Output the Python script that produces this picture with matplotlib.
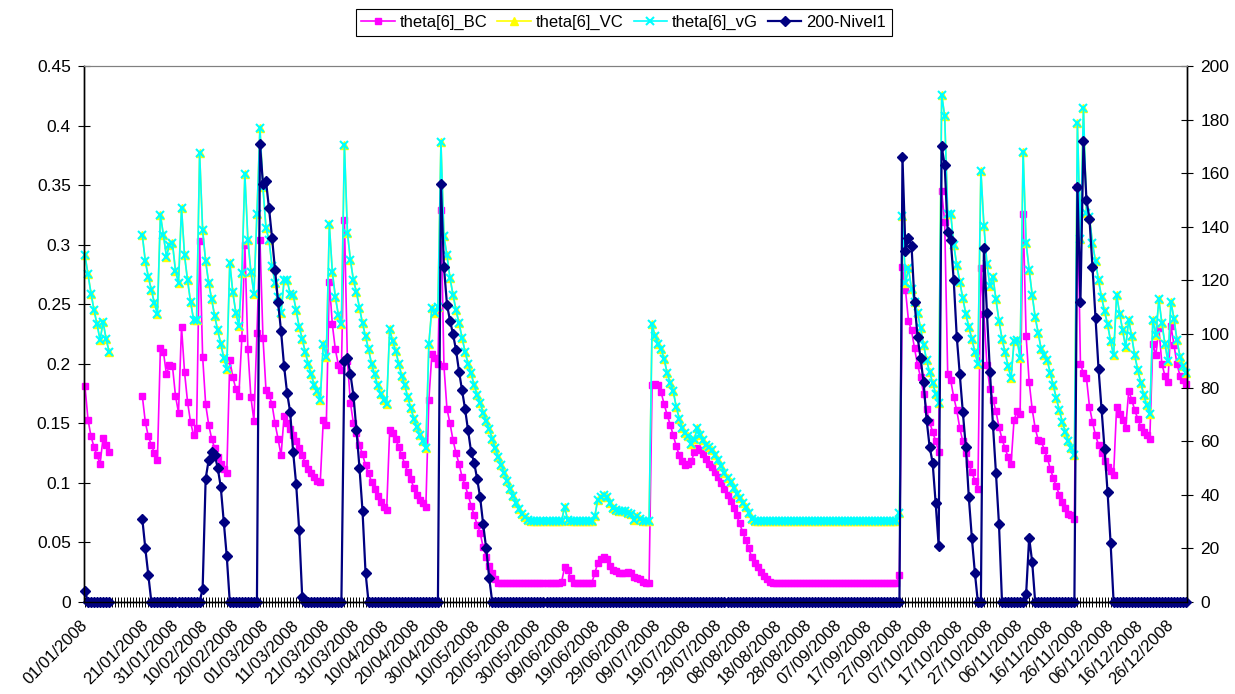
import numpy as np
import matplotlib
matplotlib.use("Agg")
import matplotlib.pyplot as plt
import matplotlib.transforms as mtransforms
from matplotlib.ticker import MultipleLocator, FuncFormatter

plt.rcParams['font.family'] = ['Liberation Sans', 'DejaVu Sans']

# dias del 2008 (0 = 01/01/2008 ... 365 = 31/12/2008)
dias = np.arange(366)

# etiquetas del eje x cada 10 dias (Excel se salta la del 11/01)
dias_etiqueta = [0, 20, 30, 40, 50, 60, 70, 80, 90, 100, 110, 120, 130, 140,
                 150, 160, 170, 180, 190, 200, 210, 220, 230, 240, 250, 260,
                 270, 280, 290, 300, 310, 320, 330, 340, 350, 360]
etiquetas = ["01/01/2008", "21/01/2008", "31/01/2008", "10/02/2008",
             "20/02/2008", "01/03/2008", "11/03/2008", "21/03/2008",
             "31/03/2008", "10/04/2008", "20/04/2008", "30/04/2008",
             "10/05/2008", "20/05/2008", "30/05/2008", "09/06/2008",
             "19/06/2008", "29/06/2008", "09/07/2008", "19/07/2008",
             "29/07/2008", "08/08/2008", "18/08/2008", "28/08/2008",
             "07/09/2008", "17/09/2008", "27/09/2008", "07/10/2008",
             "17/10/2008", "27/10/2008", "06/11/2008", "16/11/2008",
             "26/11/2008", "06/12/2008", "16/12/2008", "26/12/2008"]

N = None  # dia sin dato

# humedad theta[6] modelo BC (una fila = 10 dias)
theta_BC = [
    0.181, 0.153, 0.139, 0.130, 0.123, 0.116, 0.138, 0.132, 0.126, N,
    N, N, N, N, N, N, N, N, N, 0.173,
    0.151, 0.139, 0.132, 0.125, 0.119, 0.213, 0.210, 0.191, 0.199, 0.198,
    0.173, 0.159, 0.231, 0.193, 0.168, 0.151, 0.140, 0.146, 0.303, 0.206,
    0.166, 0.149, 0.137, 0.129, 0.122, 0.116, 0.112, 0.108, 0.203, 0.189,
    0.179, 0.173, 0.222, 0.300, 0.212, 0.172, 0.152, 0.226, 0.304, 0.222,
    0.178, 0.174, 0.166, 0.150, 0.137, 0.123, 0.156, 0.150, 0.145, 0.140,
    0.135, 0.129, 0.123, 0.117, 0.112, 0.108, 0.105, 0.102, 0.101, 0.153,
    0.149, 0.269, 0.233, 0.212, 0.199, 0.195, 0.321, 0.202, 0.167, 0.150,
    0.142, 0.132, 0.124, 0.115, 0.108, 0.101, 0.095, 0.089, 0.084, 0.080,
    0.077, 0.144, 0.142, 0.137, 0.130, 0.123, 0.116, 0.109, 0.103, 0.096,
    0.090, 0.086, 0.083, 0.080, 0.170, 0.208, 0.205, 0.200, 0.329, 0.198,
    0.162, 0.150, 0.136, 0.125, 0.116, 0.105, 0.098, 0.090, 0.081, 0.073,
    0.065, 0.058, 0.046, 0.038, 0.030, 0.024, 0.019, 0.016, 0.016, 0.016,
    0.016, 0.016, 0.016, 0.016, 0.016, 0.016, 0.016, 0.016, 0.016, 0.016,
    0.016, 0.016, 0.016, 0.016, 0.016, 0.016, 0.016, 0.016, 0.017, 0.029,
    0.027, 0.020, 0.016, 0.016, 0.016, 0.016, 0.016, 0.016, 0.016, 0.024,
    0.033, 0.036, 0.038, 0.036, 0.030, 0.027, 0.026, 0.024, 0.024, 0.024,
    0.025, 0.024, 0.021, 0.020, 0.019, 0.017, 0.016, 0.016, 0.182, 0.183,
    0.182, 0.176, 0.166, 0.157, 0.149, 0.140, 0.131, 0.123, 0.118, 0.115,
    0.116, 0.118, 0.126, 0.129, 0.128, 0.124, 0.120, 0.116, 0.113, 0.109,
    0.105, 0.100, 0.095, 0.090, 0.085, 0.079, 0.073, 0.066, 0.059, 0.052,
    0.045, 0.038, 0.033, 0.029, 0.025, 0.022, 0.019, 0.017, 0.016, 0.016,
    0.016, 0.016, 0.016, 0.016, 0.016, 0.016, 0.016, 0.016, 0.016, 0.016,
    0.016, 0.016, 0.016, 0.016, 0.016, 0.016, 0.016, 0.016, 0.016, 0.016,
    0.016, 0.016, 0.016, 0.016, 0.016, 0.016, 0.016, 0.016, 0.016, 0.016,
    0.016, 0.016, 0.016, 0.016, 0.016, 0.016, 0.016, 0.016, 0.016, 0.016,
    0.023, 0.281, 0.262, 0.236, 0.228, 0.213, 0.199, 0.189, 0.175, 0.162,
    0.151, 0.143, 0.135, 0.126, 0.345, 0.319, 0.191, 0.186, 0.172, 0.161,
    0.146, 0.135, 0.125, 0.116, 0.109, 0.102, 0.095, 0.280, 0.242, 0.199,
    0.179, 0.170, 0.160, 0.147, 0.137, 0.129, 0.122, 0.116, 0.153, 0.160,
    0.158, 0.326, 0.223, 0.185, 0.162, 0.146, 0.136, 0.135, 0.128, 0.121,
    0.112, 0.104, 0.097, 0.090, 0.084, 0.079, 0.074, 0.073, 0.070, 0.348,
    0.200, 0.192, 0.188, 0.164, 0.151, 0.140, 0.132, 0.125, 0.118, 0.113,
    0.110, 0.107, 0.164, 0.158, 0.153, 0.146, 0.177, 0.170, 0.161, 0.154,
    0.147, 0.143, 0.140, 0.137, 0.217, 0.207, 0.230, 0.200, 0.190, 0.185,
    0.232, 0.216, 0.200, 0.190, 0.186, 0.183,
]

# modelo van Genuchten
theta_vG = [
    0.291, 0.275, 0.259, 0.245, 0.233, 0.220, 0.235, 0.221, 0.210, N,
    N, N, N, N, N, N, N, N, N, 0.308,
    0.286, 0.273, 0.262, 0.251, 0.242, 0.325, 0.308, 0.290, 0.300, 0.301,
    0.278, 0.268, 0.331, 0.291, 0.270, 0.252, 0.237, 0.237, 0.377, 0.312,
    0.286, 0.268, 0.254, 0.240, 0.228, 0.217, 0.205, 0.196, 0.285, 0.260,
    0.243, 0.232, 0.276, 0.359, 0.304, 0.277, 0.259, 0.326, 0.398, 0.348,
    0.314, 0.304, 0.282, 0.268, 0.256, 0.243, 0.270, 0.270, 0.259, 0.258,
    0.245, 0.231, 0.221, 0.210, 0.200, 0.191, 0.182, 0.177, 0.170, 0.217,
    0.206, 0.317, 0.277, 0.256, 0.241, 0.233, 0.384, 0.310, 0.287, 0.270,
    0.260, 0.247, 0.234, 0.223, 0.212, 0.200, 0.191, 0.182, 0.175, 0.170,
    0.166, 0.229, 0.219, 0.211, 0.200, 0.190, 0.182, 0.172, 0.163, 0.154,
    0.147, 0.140, 0.135, 0.129, 0.217, 0.247, 0.243, 0.248, 0.386, 0.307,
    0.291, 0.272, 0.258, 0.245, 0.234, 0.222, 0.210, 0.200, 0.192, 0.182,
    0.174, 0.167, 0.159, 0.152, 0.145, 0.137, 0.129, 0.122, 0.115, 0.108,
    0.102, 0.095, 0.089, 0.083, 0.078, 0.074, 0.071, 0.069, 0.068, 0.068,
    0.068, 0.068, 0.068, 0.068, 0.068, 0.068, 0.068, 0.068, 0.068, 0.080,
    0.069, 0.068, 0.068, 0.068, 0.068, 0.068, 0.068, 0.068, 0.068, 0.072,
    0.086, 0.088, 0.090, 0.088, 0.083, 0.079, 0.077, 0.076, 0.076, 0.076,
    0.075, 0.074, 0.069, 0.072, 0.070, 0.068, 0.068, 0.068, 0.233, 0.223,
    0.217, 0.212, 0.204, 0.192, 0.184, 0.177, 0.164, 0.154, 0.146, 0.142,
    0.139, 0.133, 0.137, 0.146, 0.140, 0.136, 0.132, 0.130, 0.128, 0.123,
    0.119, 0.114, 0.108, 0.104, 0.101, 0.096, 0.091, 0.087, 0.083, 0.080,
    0.075, 0.070, 0.068, 0.068, 0.068, 0.068, 0.068, 0.068, 0.068, 0.068,
    0.068, 0.068, 0.068, 0.068, 0.068, 0.068, 0.068, 0.068, 0.068, 0.068,
    0.068, 0.068, 0.068, 0.068, 0.068, 0.068, 0.068, 0.068, 0.068, 0.068,
    0.068, 0.068, 0.068, 0.068, 0.068, 0.068, 0.068, 0.068, 0.068, 0.068,
    0.068, 0.068, 0.068, 0.068, 0.068, 0.068, 0.068, 0.068, 0.068, 0.068,
    0.075, 0.324, 0.268, 0.280, 0.263, 0.252, 0.243, 0.230, 0.216, 0.203,
    0.193, 0.184, 0.175, 0.167, 0.426, 0.408, 0.326, 0.326, 0.300, 0.283,
    0.269, 0.255, 0.242, 0.231, 0.221, 0.210, 0.200, 0.362, 0.316, 0.284,
    0.265, 0.273, 0.254, 0.236, 0.221, 0.210, 0.198, 0.188, 0.219, 0.220,
    0.205, 0.378, 0.301, 0.279, 0.258, 0.239, 0.226, 0.212, 0.207, 0.203,
    0.192, 0.182, 0.171, 0.161, 0.151, 0.143, 0.135, 0.129, 0.123, 0.402,
    0.305, 0.415, 0.327, 0.323, 0.301, 0.286, 0.270, 0.256, 0.244, 0.233,
    0.219, 0.207, 0.258, 0.242, 0.228, 0.214, 0.237, 0.223, 0.207, 0.195,
    0.184, 0.174, 0.165, 0.158, 0.237, 0.224, 0.254, 0.234, 0.217, 0.202,
    0.252, 0.238, 0.220, 0.206, 0.198, 0.192,
]

# el modelo VC cae practicamente encima del vG
theta_VC = list(theta_vG)

# 200 - Nivel1 (eje derecho)
nivel1 = [
    4, 0, 0, 0, 0, 0, 0, 0, 0, N,
    N, N, N, N, N, N, N, N, N, 31,
    20, 10, 0, 0, 0, 0, 0, 0, 0, 0,
    0, 0, 0, 0, 0, 0, 0, 0, 0, 5,
    46, 53, 56, 55, 50, 43, 30, 17, 0, 0,
    0, 0, 0, 0, 0, 0, 0, 0, 171, 156,
    157, 147, 136, 124, 112, 101, 88, 78, 71, 56,
    44, 27, 2, 0, 0, 0, 0, 0, 0, 0,
    0, 0, 0, 0, 0, 0, 90, 91, 85, 77,
    64, 50, 34, 11, 0, 0, 0, 0, 0, 0,
    0, 0, 0, 0, 0, 0, 0, 0, 0, 0,
    0, 0, 0, 0, 0, 0, 0, 0, 156, 125,
    111, 105, 100, 94, 86, 79, 72, 64, 56, 52,
    46, 39, 29, 20, 9, 0, 0, 0, 0, 0,
    0, 0, 0, 0, 0, 0, 0, 0, 0, 0,
    0, 0, 0, 0, 0, 0, 0, 0, 0, 0,
    0, 0, 0, 0, 0, 0, 0, 0, 0, 0,
    0, 0, 0, 0, 0, 0, 0, 0, 0, 0,
    0, 0, 0, 0, 0, 0, 0, 0, 0, 0,
    0, 0, 0, 0, 0, 0, 0, 0, 0, 0,
    0, 0, 0, 0, 0, 0, 0, 0, 0, 0,
    0, 0, 0, 0, 0, 0, 0, 0, 0, 0,
    0, 0, 0, 0, 0, 0, 0, 0, 0, 0,
    0, 0, 0, 0, 0, 0, 0, 0, 0, 0,
    0, 0, 0, 0, 0, 0, 0, 0, 0, 0,
    0, 0, 0, 0, 0, 0, 0, 0, 0, 0,
    0, 0, 0, 0, 0, 0, 0, 0, 0, 0,
    0, 166, 131, 136, 133, 112, 99, 91, 82, 68,
    58, 52, 37, 21, 170, 163, 138, 135, 120, 99,
    85, 71, 58, 39, 24, 11, 0, 0, 132, 108,
    86, 66, 48, 29, 0, 0, 0, 0, 0, 0,
    0, 0, 3, 24, 15, 0, 0, 0, 0, 0,
    0, 0, 0, 0, 0, 0, 0, 0, 0, 155,
    112, 172, 150, 143, 125, 106, 87, 72, 57, 41,
    22, 0, 0, 0, 0, 0, 0, 0, 0, 0,
    0, 0, 0, 0, 0, 0, 0, 0, 0, 0,
    0, 0, 0, 0, 0, 0,
]


def serie(valores):
    # None -> hueco en la linea
    return np.array([np.nan if v is None else v for v in valores], dtype=float)


fig = plt.figure(figsize=(12.35, 6.94), dpi=100)
ax = fig.add_axes([84 / 1235, 1 - 602 / 694, (1187 - 84) / 1235, (602 - 66) / 694])
ax2 = ax.twinx()

l1, = ax.plot(dias, serie(theta_BC), color='#FF00FF', lw=1.2, marker='s', ms=5,
              clip_on=False, label='theta[6]_BC')
l2, = ax.plot(dias, serie(theta_VC), color='#FFFF00', lw=1.2, marker='^', ms=5.5,
              clip_on=False, label='theta[6]_VC')
l3, = ax.plot(dias, serie(theta_vG), color='#00FFFF', lw=1.2, marker='x', ms=5.5,
              mew=1.5, clip_on=False, label='theta[6]_vG')
l4, = ax2.plot(dias, serie(nivel1), color='#000080', lw=1.6, marker='D', ms=5.5,
               clip_on=False, label='200-Nivel1')

# ejes
ax.set_xlim(-0.33, 365.33)
ax.set_ylim(0, 0.45)
ax2.set_ylim(0, 200)
ax.yaxis.set_major_locator(MultipleLocator(0.05))
ax.yaxis.set_major_formatter(FuncFormatter(lambda v, p: f'{v:g}'))
ax2.yaxis.set_major_locator(MultipleLocator(20))

ax.set_xticks(dias, minor=True)
ax.set_xticks(dias_etiqueta)
ax.set_xticklabels(etiquetas, rotation=45, ha='right', rotation_mode='anchor')

ax.tick_params(axis='x', which='both', direction='inout', length=6.5, width=0.7,
               labelsize=12, pad=3)
ax.tick_params(axis='y', direction='inout', length=8, width=0.8, labelsize=12.5, pad=5.5)
ax2.tick_params(axis='y', direction='inout', length=8, width=0.8, labelsize=12.5, pad=5.5)

# las fechas de Excel quedan algo mas abajo y a la izquierda
desplaza = mtransforms.ScaledTranslation(-5 / 100, -7 / 100, fig.dpi_scale_trans)
for lab in ax.get_xticklabels():
    lab.set_transform(lab.get_transform() + desplaza)

for a in (ax, ax2):
    for s in ('left', 'right', 'bottom'):
        a.spines[s].set_linewidth(1.0)
    a.spines['top'].set_color('#808080')
    a.spines['top'].set_linewidth(0.8)

leg = fig.legend(handles=[l1, l2, l3, l4], loc='center', bbox_to_anchor=(0.505, 0.968),
                 ncol=4, fancybox=False, edgecolor='black', framealpha=1, fontsize=12,
                 handlelength=2.0, handletextpad=0.3, columnspacing=0.6, borderpad=0.35)
leg.get_frame().set_linewidth(0.8)

fig.savefig('out.png', dpi=100)
